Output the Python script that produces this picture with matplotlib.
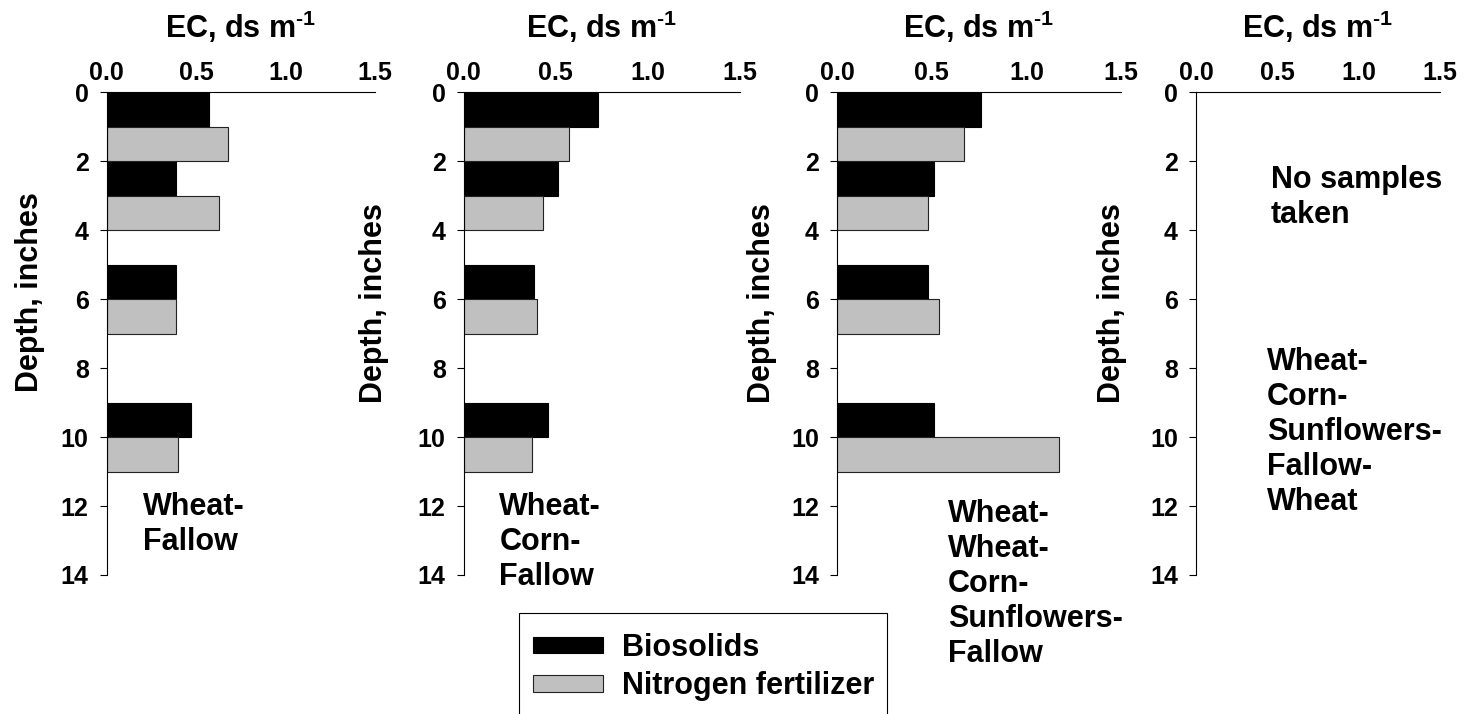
import matplotlib
matplotlib.use('Agg')
import matplotlib.pyplot as plt
from matplotlib.patches import Patch, Rectangle

plt.rcParams['font.family'] = ['Liberation Sans', 'DejaVu Sans']
plt.rcParams['font.weight'] = 'bold'
plt.rcParams['mathtext.fontset'] = 'custom'
plt.rcParams['mathtext.rm'] = 'Liberation Sans:bold'
plt.rcParams['mathtext.bf'] = 'Liberation Sans:bold'
plt.rcParams['mathtext.it'] = 'Liberation Sans:bold'

# ---- data ----
series_names = ['Biosolids', 'Nitrogen fertilizer']
depth_biosolids = [0, 2, 5, 9]      # top of each bar, inches
depth_nitrogen = [1, 3, 6, 10]
wf_biosolids = [0.57, 0.39, 0.39, 0.47]
wf_nitrogen = [0.68, 0.63, 0.39, 0.40]
wcf_biosolids = [0.73, 0.51, 0.38, 0.46]
wcf_nitrogen = [0.57, 0.43, 0.40, 0.37]
wwcsf_biosolids = [0.76, 0.51, 0.48, 0.51]
wwcsf_nitrogen = [0.67, 0.48, 0.54, 1.17]
x_ticks = [0.0, 0.5, 1.0, 1.5]
x_tick_labels = ['0.0', '0.5', '1.0', '1.5']
y_ticks = [0, 2, 4, 6, 8, 10, 12, 14]
rotation_labels = ['Wheat-\nFallow', 'Wheat-\nCorn-\nFallow',
                   'Wheat-\nWheat-\nCorn-\nSunflowers-\nFallow',
                   'Wheat-\nCorn-\nSunflowers-\nFallow-\nWheat']
no_sample_note = 'No samples\ntaken'

panels = [(wf_biosolids, wf_nitrogen), (wcf_biosolids, wcf_nitrogen),
          (wwcsf_biosolids, wwcsf_nitrogen), (None, None)]

# ---- layout ----
W, H = 1467, 714
fig = plt.figure(figsize=(W / 100, H / 100), dpi=100)
lefts = [106.7, 463.7, 837, 1196]
rights = [375, 740, 1121, 1440]
top_px, bot_px = 92.3, 575
ylabel_x = [30, 374, 762, 1112]
ylabel_depth = [5.8, 6.1, 6.1, 6.1]
text_pos = [(0.205, 11.6), (0.193, 11.6), (0.586, 11.8), (0.436, 7.39)]

black = '#000000'
gray = '#C0C0C0'
FS = 22

for i, (bio, nit) in enumerate(panels):
    l, r = lefts[i], rights[i]
    ax = fig.add_axes([l / W, 1 - bot_px / H, (r - l) / W, (bot_px - top_px) / H])
    if bio is not None:
        ax.barh(depth_biosolids, bio, height=1.0, align='edge', color=black,
                edgecolor=black, linewidth=0.8, label=series_names[0])
        ax.barh(depth_nitrogen, nit, height=1.0, align='edge', color=gray,
                edgecolor='#222222', linewidth=0.8, label=series_names[1])
    ax.set_xlim(0, 1.5)
    ax.set_ylim(14, 0)
    ax.xaxis.tick_top()
    ax.xaxis.set_label_position('top')
    ax.set_xticks(x_ticks)
    ax.set_xticklabels(x_tick_labels)
    ax.set_yticks(y_ticks)
    ax.tick_params(axis='x', length=0, pad=5, labelsize=18)
    ax.tick_params(axis='y', length=5, width=0.8, direction='out', pad=8, labelsize=18)
    for s in ['right', 'bottom']:
        ax.spines[s].set_visible(False)
    for s in ['top', 'left']:
        ax.spines[s].set_linewidth(0.8)
    ax.set_xlabel(r'EC, ds m$^{\text{-1}}$', fontsize=FS, fontweight='bold', labelpad=17)
    # y label
    yc = top_px + ylabel_depth[i] * (bot_px - top_px) / 14
    fig.text(ylabel_x[i] / W, 1 - yc / H, 'Depth, inches', rotation=90,
             ha='center', va='center', fontsize=FS, fontweight='bold')
    tx, ty = text_pos[i]
    ax.text(tx, ty, rotation_labels[i], ha='left', va='top', fontsize=FS,
            fontweight='bold', linespacing=1.22, clip_on=False)
    if bio is None:
        ax.text(0.46, 2.11, no_sample_note, ha='left', va='top', fontsize=FS,
                fontweight='bold', linespacing=1.22, clip_on=False)

# legend (frame drawn separately so it runs off the bottom edge as in the original)
handles = [Patch(facecolor=black, edgecolor=black, linewidth=0.8),
           Patch(facecolor=gray, edgecolor='#222222', linewidth=0.8)]
leg = fig.legend(handles, series_names, loc='upper left',
                 bbox_to_anchor=(519 / W, 1 - 619 / H), fontsize=FS,
                 frameon=False, handlelength=2.29, handleheight=0.46,
                 handletextpad=0.62, borderpad=0.45, labelspacing=0.28,
                 borderaxespad=0)
for t in leg.get_texts():
    t.set_fontweight('bold')
fig.patches.append(Rectangle((519 / W, -0.05), (887 - 519) / W, (1 - 613 / H) + 0.05,
                             transform=fig.transFigure, fill=False,
                             edgecolor='black', linewidth=0.8))

fig.savefig('out.png', dpi=100)
